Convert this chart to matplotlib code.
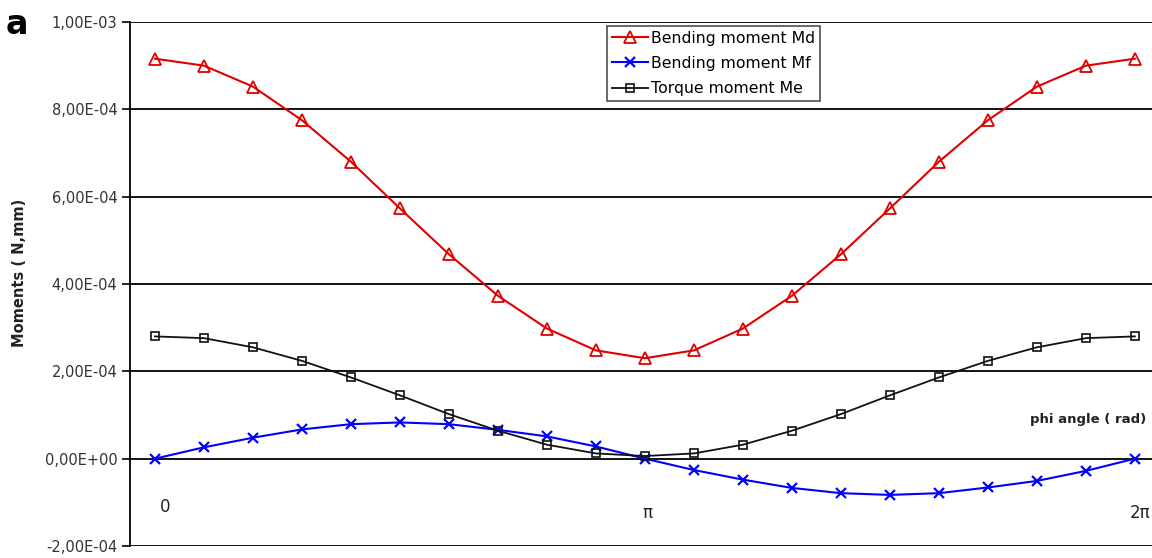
import matplotlib
matplotlib.use("Agg")
import matplotlib.pyplot as plt
import numpy as np

plt.rcParams['font.family'] = ['DejaVu Sans']

# Data: 21 samples from 0 to 2*pi (index 0..20)
idx = list(range(21))
md = [9.16e-4, 9.00e-4, 8.52e-4, 7.75e-4, 6.80e-4, 5.73e-4, 4.68e-4, 3.73e-4, 2.98e-4, 2.48e-4, 2.30e-4,
      2.48e-4, 2.98e-4, 3.73e-4, 4.68e-4, 5.73e-4, 6.80e-4, 7.75e-4, 8.52e-4, 9.00e-4, 9.16e-4]
mf = [0.0, 0.26e-4, 0.48e-4, 0.67e-4, 0.79e-4, 0.83e-4, 0.79e-4, 0.66e-4, 0.51e-4, 0.28e-4, 0.0,
      -0.26e-4, -0.48e-4, -0.67e-4, -0.79e-4, -0.83e-4, -0.79e-4, -0.66e-4, -0.51e-4, -0.28e-4, 0.0]
me = [2.80e-4, 2.76e-4, 2.55e-4, 2.24e-4, 1.86e-4, 1.45e-4, 1.02e-4, 0.64e-4, 0.32e-4, 0.12e-4, 0.06e-4,
      0.12e-4, 0.32e-4, 0.64e-4, 1.02e-4, 1.45e-4, 1.86e-4, 2.24e-4, 2.55e-4, 2.76e-4, 2.80e-4]
yticks = [-2e-4, 0.0, 2e-4, 4e-4, 6e-4, 8e-4, 1e-3]
ytick_labels = ["-2,00E-04", "0,00E+00", "2,00E-04", "4,00E-04", "6,00E-04", "8,00E-04", "1,00E-03"]
xlabels = ["0", "π", "2π"]
xlabel_pos = [0, 10, 20]

W, H = 1152, 558
fig = plt.figure(figsize=(W / 100, H / 100), dpi=100)
top_px, bot_px = 22, 546
ax = fig.add_axes([130 / W, 1 - bot_px / H, 1 - 130 / W, (bot_px - top_px) / H])

ax.set_xlim(-0.51, 20.35)
ax.set_ylim(-2e-4, 1e-3)

for y in yticks:
    ax.axhline(y, color='black', lw=1.3, zorder=1)

ax.plot(idx, md, color='#e00000', lw=1.5, marker='^', markersize=8,
        markerfacecolor='none', markeredgecolor='#e00000', markeredgewidth=1.3,
        label='Bending moment Md', zorder=3)
ax.plot(idx, mf, color='#0000ff', lw=1.5, marker='x', markersize=7,
        markeredgewidth=1.6, label='Bending moment Mf', zorder=3)
ax.plot(idx, me, color='#111111', lw=1.3, marker='s', markersize=6,
        markerfacecolor='none', markeredgecolor='#111111', markeredgewidth=1.2,
        label='Torque moment Me', zorder=3)

ax.set_yticks(yticks)
ax.set_yticklabels(ytick_labels, fontsize=10.5, color='#333333')
ax.tick_params(axis='y', length=6, width=1.2, color='black', pad=3)
ax.set_xticks([])
for s in ['top', 'right', 'bottom']:
    ax.spines[s].set_visible(False)
ax.spines['left'].set_linewidth(1.3)

# category labels below zero line
offs = [0.2, 0.05, 0.1]
ypos = [-1.1e-4, -1.25e-4, -1.25e-4]
for p, t, o, yp in zip(xlabel_pos, xlabels, offs, ypos):
    ax.text(p + o, yp, t, ha='center', va='center', fontsize=12, color='#222222')

ax.text(17.85, 0.9e-4, 'phi angle ( rad)', ha='left', va='center', fontsize=9.5,
        fontweight='bold', color='#222222')

leg = ax.legend(loc='upper left',
                bbox_to_anchor=((607 - 130) / (W - 130), 1 - (26 - top_px) / (bot_px - top_px)),
                fontsize=11.3, frameon=True, fancybox=False, edgecolor='#222222',
                borderpad=0.3, labelspacing=0.65, handlelength=2.3, handletextpad=0.2,
                borderaxespad=0)
leg.get_frame().set_linewidth(1.2)

fig.text(20 / W, 1 - 273 / H, 'Moments ( N,mm)', rotation=90, ha='center', va='center',
         fontsize=10.5, fontweight='bold', color='#222222')
fig.text(6 / W, 1 - 24 / H, 'a', ha='left', va='center', fontsize=24, fontweight='bold')

fig.savefig('out.png', dpi=100)
